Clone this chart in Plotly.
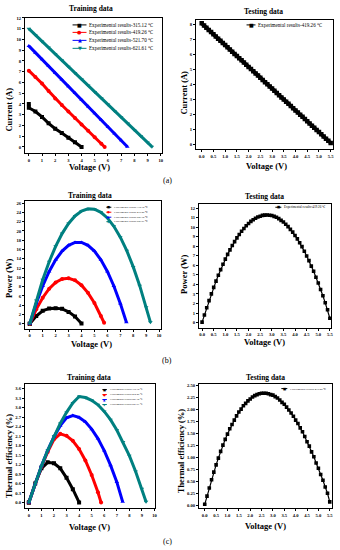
import plotly.graph_objects as go

W, H = 340, 550

# ---------------- data ----------------
series_names = ["Experimental results-315.12 ℃", "Experimental results-419.26 ℃",
                "Experimental results-521.70 ℃", "Experimental results-621.61 ℃"]
test_name = "Experimental results-419.26 ℃"
colors = ["#000000", "#ff0000", "#0000ff", "#008080"]
symbols = ["square", "circle", "triangle-up", "triangle-down"]
glyphs = ["■", "●", "▲", "▼"]

# training data (voltage V, current A, power W, thermal efficiency %)
v_315 = [0.0, 0.0, 0.5, 1.0, 1.5, 2.0, 2.5, 3.0, 3.5, 4.0]
i_315 = [4.0, 3.65, 3.3, 2.8, 2.2, 1.7, 1.3, 0.85, 0.45, 0.0]
p_315 = [0.0, 0.0, 1.65, 2.8, 3.3, 3.35, 3.2, 2.55, 1.55, 0.05]
e_315 = [0.0, 0.0, 0.6, 1.08, 1.27, 1.24, 1.08, 0.78, 0.42, 0.0]

v_419 = [0.0, 0.5, 1.0, 1.5, 2.0, 2.5, 3.0, 3.5, 4.0, 4.5, 5.0, 5.5, 5.75]
i_419 = [7.1, 6.5, 5.9, 5.2, 4.5, 3.9, 3.3, 2.7, 2.1, 1.5, 0.9, 0.3, 0.0]
p_419 = [0.0, 3.1, 5.6, 7.55, 8.9, 9.65, 9.8, 9.35, 8.3, 6.65, 4.45, 1.65, 0.2]
e_419 = [0.0, 0.6, 1.13, 1.6, 2.0, 2.17, 2.11, 1.95, 1.69, 1.33, 0.87, 0.32, 0.0]

v_521 = [0.0, 0.5, 1.0, 1.5, 2.0, 2.5, 3.0, 3.5, 4.0, 4.5, 5.0, 5.5, 6.0, 6.5, 7.0, 7.47]
i_521 = [9.4, 8.77, 8.15, 7.52, 6.89, 6.27, 5.64, 5.01, 4.39, 3.76, 3.13, 2.51, 1.88, 1.25, 0.63, 0.02]
p_521 = [0.0, 4.38, 8.14, 11.26, 13.77, 15.65, 16.9, 17.52, 17.52, 16.9, 15.65, 13.77, 11.26, 8.14, 4.38, 0.3]
e_521 = [0.0, 0.6, 1.15, 1.65, 2.08, 2.43, 2.68, 2.75, 2.69, 2.55, 2.32, 2.02, 1.64, 1.18, 0.65, 0.02]

v_621 = [0.0, 0.5, 1.0, 1.5, 2.0, 2.5, 3.0, 3.5, 4.0, 4.5, 5.0, 5.5, 6.0, 6.5, 7.0, 7.5, 8.0, 8.5, 9.0, 9.33]
i_621 = [11.0, 10.41, 9.82, 9.24, 8.65, 8.06, 7.47, 6.88, 6.29, 5.71, 5.12, 4.53, 3.94, 3.35, 2.76, 2.18, 1.59, 1.0, 0.41, 0.03]
p_621 = [0.0, 5.02, 9.47, 13.36, 16.68, 19.43, 21.61, 23.23, 24.28, 24.76, 24.68, 24.02, 22.81, 21.02, 18.66, 15.74, 12.25, 8.2, 3.57, 0.3]
e_621 = [0.0, 0.6, 1.15, 1.65, 2.1, 2.5, 2.85, 3.15, 3.35, 3.32, 3.23, 3.09, 2.88, 2.62, 2.29, 1.91, 1.48, 0.98, 0.43, 0.02]

train_v = [v_315, v_419, v_521, v_621]
train_i = [i_315, i_419, i_521, i_621]
train_p = [p_315, p_419, p_521, p_621]
train_e = [e_315, e_419, e_521, e_621]

# testing data (419.26 C)
v_test = [0.0, 0.1, 0.2, 0.3, 0.4, 0.5, 0.6, 0.7, 0.8, 0.9, 1.0, 1.1, 1.2, 1.3, 1.4, 1.5, 1.6, 1.7, 1.8, 1.9,
          2.0, 2.1, 2.2, 2.3, 2.4, 2.5, 2.6, 2.7, 2.8, 2.9, 3.0, 3.1, 3.2, 3.3, 3.4, 3.5, 3.6, 3.7, 3.8, 3.9,
          4.0, 4.1, 4.2, 4.3, 4.4, 4.5, 4.6, 4.7, 4.8, 4.9, 5.0, 5.1, 5.2, 5.3, 5.4, 5.5]
i_test = [8.10, 7.95, 7.81, 7.66, 7.52, 7.37, 7.23, 7.08, 6.94, 6.79, 6.65, 6.50, 6.35, 6.21, 6.06, 5.92,
          5.77, 5.63, 5.48, 5.34, 5.19, 5.05, 4.90, 4.75, 4.61, 4.46, 4.32, 4.17, 4.03, 3.88, 3.74, 3.59,
          3.45, 3.30, 3.15, 3.01, 2.86, 2.72, 2.57, 2.43, 2.28, 2.14, 1.99, 1.85, 1.70, 1.55, 1.41, 1.26,
          1.12, 0.97, 0.83, 0.68, 0.54, 0.39, 0.25, 0.10]
p_test = [0.05, 0.80, 1.56, 2.30, 3.01, 3.69, 4.34, 4.96, 5.55, 6.11, 6.65, 7.15, 7.62, 8.07, 8.48, 8.88,
          9.23, 9.57, 9.86, 10.15, 10.38, 10.61, 10.78, 10.93, 11.06, 11.15, 11.23, 11.26, 11.28, 11.25,
          11.22, 11.13, 11.04, 10.89, 10.71, 10.54, 10.30, 10.06, 9.77, 9.48, 9.12, 8.77, 8.36, 7.96, 7.48,
          6.98, 6.49, 5.92, 5.38, 4.75, 4.15, 3.47, 2.81, 2.07, 1.35, 0.45]
e_test = [0.02, 0.19, 0.36, 0.53, 0.69, 0.84, 0.98, 1.12, 1.25, 1.37, 1.48, 1.59, 1.68, 1.77, 1.86, 1.94,
          2.00, 2.07, 2.12, 2.17, 2.21, 2.25, 2.28, 2.30, 2.32, 2.33, 2.33, 2.33, 2.32, 2.30, 2.29, 2.26,
          2.23, 2.19, 2.14, 2.10, 2.04, 1.98, 1.92, 1.85, 1.77, 1.70, 1.61, 1.53, 1.43, 1.32, 1.23, 1.11,
          1.01, 0.88, 0.77, 0.64, 0.52, 0.38, 0.25, 0.07]

# ---------------- helpers ----------------
def px(x):
    return x / W

def py(y):
    return 1 - y / H

SERIF = "Liberation Serif"

# panel boxes in pixels: (left, right, top, bottom)
boxes = {
    1: (25, 163, 16, 152),
    2: (197, 335, 18, 148),
    3: (25, 162, 200, 328),
    4: (200, 333, 203, 327),
    5: (25, 156, 383, 508),
    6: (200, 334, 383, 508),
}

fig = go.Figure()

def ax_name(n, kind):
    return kind if n == 1 else f"{kind}{n}"

# training traces
for panel, ys, msize in [(1, train_i, 4), (3, train_p, 4), (5, train_e, 4)]:
    for k in range(4):
        fig.add_trace(go.Scatter(
            x=train_v[k], y=ys[k], mode="lines+markers", name=series_names[k],
            line=dict(color=colors[k], width=3),
            marker=dict(symbol=symbols[k], size=msize, color=colors[k]),
            xaxis=ax_name(panel, "x"), yaxis=ax_name(panel, "y"), showlegend=False))

# testing traces
for panel, ys, lw, ms in [(2, i_test, 3.6, 4.5), (4, p_test, 1.2, 3.6), (6, e_test, 1.2, 3.6)]:
    fig.add_trace(go.Scatter(
        x=v_test, y=ys, mode="lines+markers", name=test_name,
        line=dict(color="#000000", width=lw),
        marker=dict(symbol="square", size=ms, color="#000000"),
        xaxis=ax_name(panel, "x"), yaxis=ax_name(panel, "y"), showlegend=False))

tickfont = dict(family=SERIF, size=4.6, color="black", weight="bold")
base = dict(showline=True, linecolor="black", linewidth=0.8, mirror=True,
            ticks="outside", ticklen=2, tickwidth=0.6, tickcolor="black",
            showgrid=False, zeroline=False, tickfont=tickfont)

axis_cfg = {
    1: (dict(range=[-0.3, 10.1], dtick=1), dict(range=[-0.6, 12.0], dtick=1)),
    2: (dict(range=[-0.25, 5.6], dtick=0.5, tickformat=".1f"), dict(range=[-0.33, 8.33], dtick=1)),
    3: (dict(range=[-0.38, 10.15], dtick=1), dict(range=[-1.1, 26.4], dtick=2)),
    4: (dict(range=[-0.14, 5.55], dtick=0.5, tickformat=".1f"), dict(range=[-0.55, 12.4], dtick=1)),
    5: (dict(range=[-0.32, 10.05], dtick=1), dict(range=[-0.18, 3.76], dtick=0.3, tickformat=".1f")),
    6: (dict(range=[-0.26, 5.6], dtick=0.5, tickformat=".1f"), dict(range=[-0.06, 2.53], dtick=0.25, tickformat=".2f")),
}

layout_axes = {}
for n, (l, r, t, b) in boxes.items():
    xc, yc = axis_cfg[n]
    xk = "xaxis" if n == 1 else f"xaxis{n}"
    yk = "yaxis" if n == 1 else f"yaxis{n}"
    layout_axes[xk] = dict(base, domain=[px(l), px(r)], anchor=ax_name(n, "y"), **xc)
    layout_axes[yk] = dict(base, domain=[py(b), py(t)], anchor=ax_name(n, "x"), **yc)

fig.update_layout(**layout_axes)

annotations = []
shapes = []

def text(x, y, s, size, angle=0, xanchor="center", color="black", family=SERIF, bold=True):
    annotations.append(dict(
        x=px(x), y=py(y), xref="paper", yref="paper", text=s, showarrow=False,
        xanchor=xanchor, yanchor="middle", textangle=angle,
        font=dict(family=family, size=size, color=color, weight="bold" if bold else "normal")))

# panel titles
titles = [("Training data", 92, 7), ("Testing data", 265, 10),
          ("Training data", 91, 194), ("Testing data", 266, 195),
          ("Training data", 90, 377), ("Testing data", 267, 377)]
for s, x, y in titles:
    text(x, y, s, 7.5)

# x axis titles
for x, y in [(90, 166), (268, 165), (92, 343), (266, 341), (90, 527), (267, 526)]:
    text(x, y, "Voltage (V)", 8.5)

# y axis titles
ytitles = [("Current (A)", 9, 108), ("Current (A)", 185, 91),
           ("Power (W)", 9, 277), ("Power (W)", 185, 273),
           ("Thermal efficiency (%)", 9, 455), ("Thermal efficiency (%)", 182, 450)]
for s, x, y in ytitles:
    text(x, y, s, 8.5, angle=-90)

# panel labels
for s, y in [("(a)", 179), ("(b)", 360), ("(c)", 541)]:
    text(168, y, s, 8, bold=False)

# hand-built legends
def legend(rows, x0, x1, labels, cols, glyph_list, fsize, gsize):
    for y, lab, c, g in zip(rows, labels, cols, glyph_list):
        shapes.append(dict(type="line", xref="paper", yref="paper",
                           x0=px(x0), x1=px(x1), y0=py(y), y1=py(y),
                           line=dict(color=c, width=1)))
        annotations.append(dict(x=px((x0 + x1) / 2), y=py(y), xref="paper", yref="paper",
                                text=g, showarrow=False, xanchor="center", yanchor="middle",
                                font=dict(family="DejaVu Sans", size=gsize, color=c)))
        text(x1 + 1, y, lab, fsize, xanchor="left", bold=False)

legend([23, 30.5, 38.5, 46.5], 73, 87, series_names, colors, glyphs, 5.1, 5)
legend([23], 248, 257, [test_name], ["#000000"], ["■"], 5.1, 5)
legend([206, 211, 216, 220.5], 107, 112, series_names, colors, glyphs, 2.7, 3.2)
legend([206], 277, 283, [test_name], ["#000000"], ["■"], 3.3, 3.4)
legend([389, 394, 399, 404], 103, 107.5, series_names, colors, glyphs, 2.6, 3.2)
legend([388], 283, 289, [test_name], ["#000000"], ["■"], 2.9, 3.4)

fig.update_layout(
    width=W, height=H,
    margin=dict(l=0, r=0, t=0, b=0),
    paper_bgcolor="white", plot_bgcolor="white",
    showlegend=False,
    annotations=annotations,
    shapes=shapes,
)

fig.write_html(
    "out.html",
    config={"displayModeBar": False},
    post_script="document.body.style.margin='0';document.body.style.overflow='hidden';",
)
